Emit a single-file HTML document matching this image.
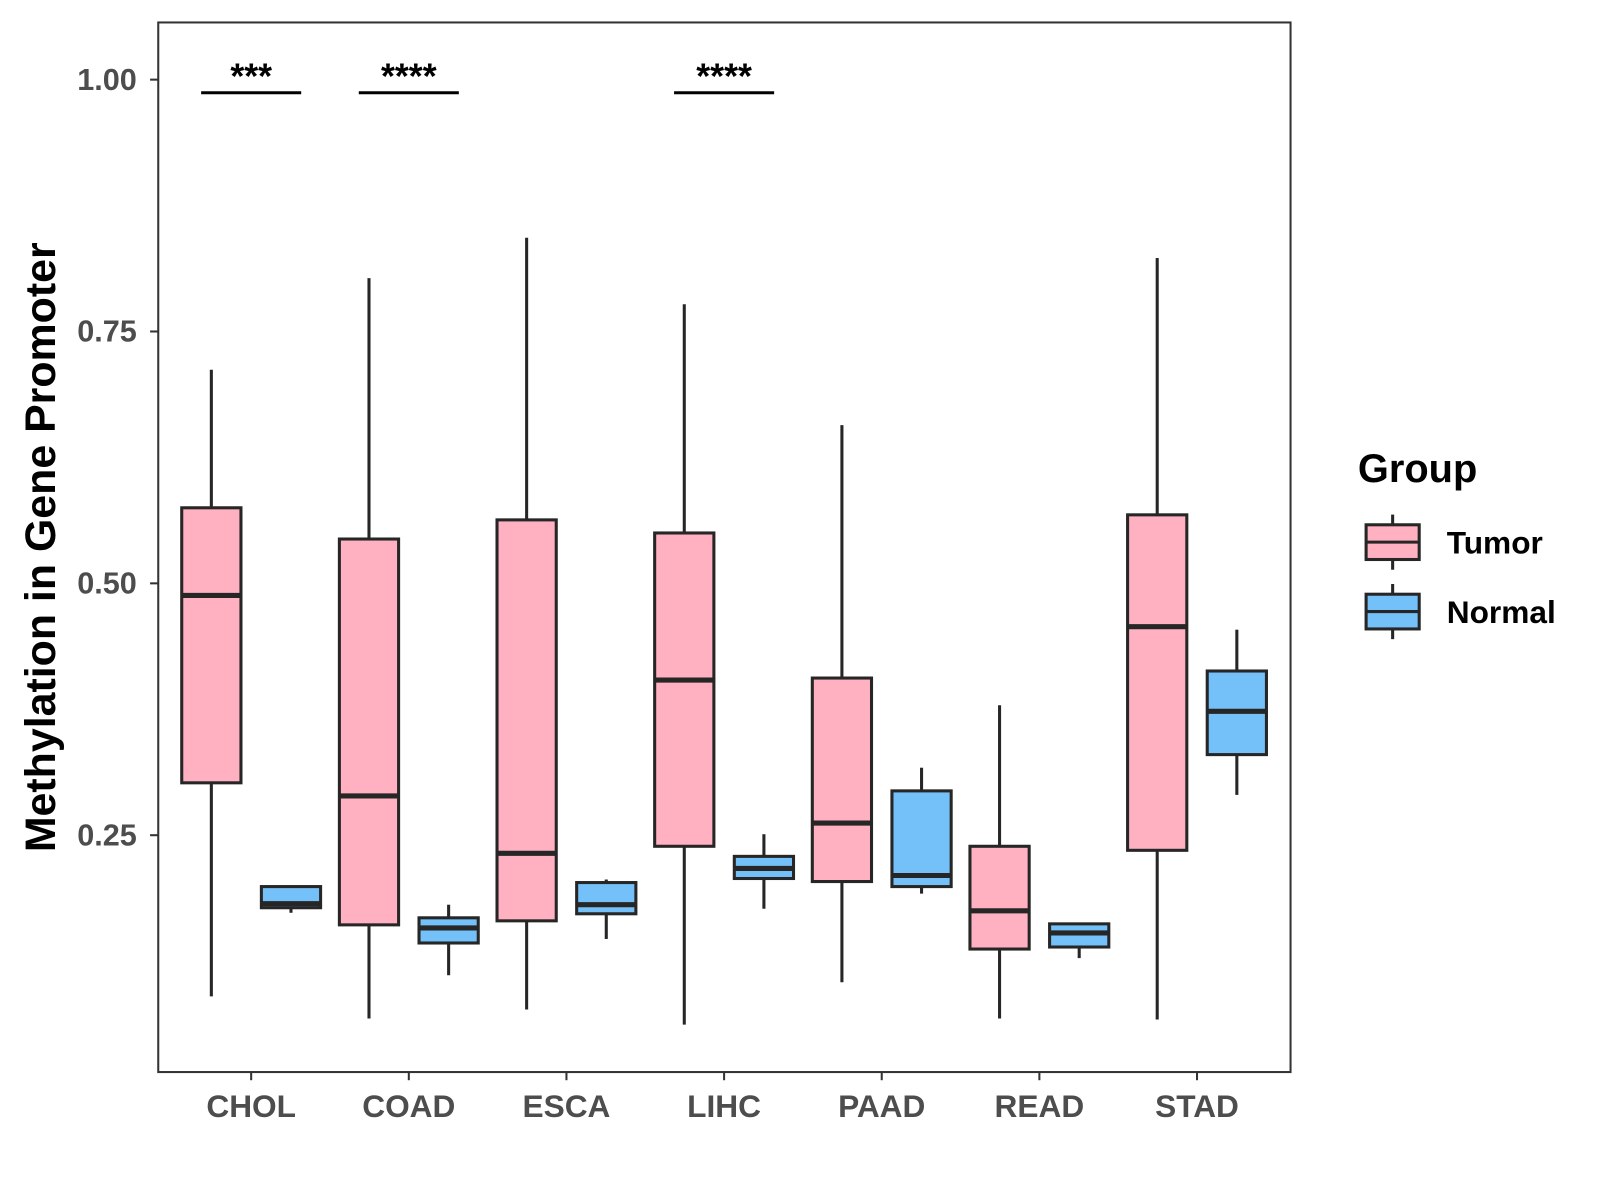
<!DOCTYPE html>
<html><head><meta charset="utf-8"><style>
html,body{margin:0;padding:0;background:#fff;}
svg{display:block;font-family:"Liberation Sans",Arial,sans-serif;}
</style></head><body>
<svg width="1600" height="1200" viewBox="0 0 1600 1200"><g id="chart" transform="scale(1.021)"></g></svg>
<script>
const categories = ["CHOL","COAD","ESCA","LIHC","PAAD","READ","STAD"];
const tumorMin = [0.090,0.068,0.077,0.062,0.104,0.068,0.067];
const tumorQ1  = [0.302,0.161,0.165,0.239,0.204,0.137,0.235];
const tumorMed = [0.488,0.289,0.232,0.404,0.262,0.175,0.457];
const tumorQ3  = [0.575,0.544,0.563,0.550,0.406,0.239,0.568];
const tumorMax = [0.712,0.803,0.843,0.777,0.657,0.379,0.823];
const normalMin = [0.173,0.111,0.147,0.177,0.192,0.128,0.290];
const normalQ1  = [0.178,0.143,0.172,0.207,0.199,0.139,0.330];
const normalMed = [0.182,0.158,0.181,0.217,0.210,0.153,0.373];
const normalQ3  = [0.199,0.168,0.203,0.229,0.294,0.162,0.413];
const normalMax = [0.199,0.181,0.206,0.251,0.317,0.162,0.454];
const yTicks = [0.25,0.50,0.75,1.00];
const yTickLabels = ["0.25","0.50","0.75","1.00"];
const sigCategories = ["CHOL","COAD","LIHC"];
const sigLabels = ["***","****","****"];
const sigValue = 0.988;

const NS="http://www.w3.org/2000/svg";
const svg=document.getElementById('chart');
const P={l:155,r:1264,t:22,b:1050};
const y=v=>78+(1-v)*986.7;
const x=i=>246+i*154.4;
function mk(tag,attrs,parent){const e=document.createElementNS(NS,tag);for(const k in attrs)e.setAttribute(k,attrs[k]);(parent||svg).appendChild(e);return e;}

const panel=mk('rect',{x:P.l,y:P.t,width:P.r-P.l,height:P.b-P.t,fill:'none',stroke:'#333',"stroke-width":2});



yTicks.forEach((v,i)=>{
  const t=mk('line',{x1:P.l-8,x2:P.l,y1:y(v),y2:y(v),stroke:'#333',"stroke-width":2});
  
  
  const l=mk('text',{x:P.l-21,y:y(v)+10,"text-anchor":"end","font-size":30,"font-weight":"bold",fill:'#4d4d4d'});
  l.textContent=yTickLabels[i];
  
  
});
categories.forEach((c,i)=>{
  const t=mk('line',{x1:x(i),x2:x(i),y1:P.b,y2:P.b+8,stroke:'#333',"stroke-width":2});
  
  
  const l=mk('text',{x:x(i),y:1094,"text-anchor":"middle","font-size":31,"font-weight":"bold",fill:'#4d4d4d'});
  l.textContent=c;
  
  
});

function box(cx,mn,q1,md,q3,mx,fill,name){
  const g=mk('g',{});
  
  
  const hw=29;
  mk('line',{x1:cx,x2:cx,y1:y(mx),y2:y(q3),stroke:'#262626',"stroke-width":3},g);
  mk('line',{x1:cx,x2:cx,y1:y(q1),y2:y(mn),stroke:'#262626',"stroke-width":3},g);
  mk('rect',{x:cx-hw,y:y(q3),width:hw*2,height:Math.max(1,y(q1)-y(q3)),fill:fill,stroke:'#262626',"stroke-width":3},g);
  mk('line',{x1:cx-hw,x2:cx+hw,y1:y(md),y2:y(md),stroke:'#262626',"stroke-width":5},g);
}
categories.forEach((c,i)=>{
  box(x(i)-39,tumorMin[i],tumorQ1[i],tumorMed[i],tumorQ3[i],tumorMax[i],'#FFB0C1','box-tumor-'+c.toLowerCase());
  box(x(i)+39,normalMin[i],normalQ1[i],normalMed[i],normalQ3[i],normalMax[i],'#74C0F8','box-normal-'+c.toLowerCase());
});

sigCategories.forEach((c,k)=>{
  const i=categories.indexOf(c);
  const ln=mk('line',{x1:x(i)-49,x2:x(i)+49,y1:y(sigValue)+1,y2:y(sigValue)+1,stroke:'#000',"stroke-width":3});
  
  
  const t=mk('text',{x:x(i),y:y(sigValue)-3,"text-anchor":"middle","font-size":35,"font-weight":"bold",fill:'#000'});
  t.textContent=sigLabels[k];
  
  
});

const yt=mk('text',{x:0,y:0,transform:'translate(54,536) rotate(-90)',"text-anchor":"middle","font-size":42,"font-weight":"bold",fill:'#000'});
yt.textContent='Methylation in Gene Promoter';



const lt=mk('text',{x:1330,y:472,"font-size":39,"font-weight":"bold",fill:'#000'});
lt.textContent='Group';


[['Tumor','#FFB0C1',531],['Normal','#74C0F8',599]].forEach(([n,f,cy])=>{
  const g=mk('g',{});
  
  
  mk('line',{x1:1364,x2:1364,y1:cy-27,y2:cy+27,stroke:'#262626',"stroke-width":3},g);
  mk('rect',{x:1338,y:cy-17,width:52,height:34,fill:f,stroke:'#262626',"stroke-width":3},g);
  mk('line',{x1:1338,x2:1390,y1:cy,y2:cy,stroke:'#262626',"stroke-width":3},g);
  const t=mk('text',{x:1417,y:cy+11,"font-size":31,"font-weight":"bold",fill:'#000'},g);
  t.textContent=n;
});
</script>
</body></html>
